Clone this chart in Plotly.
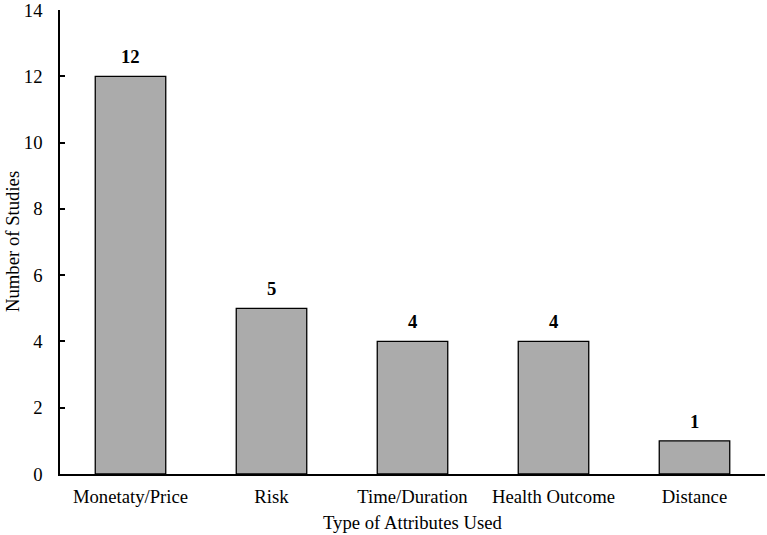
import plotly.graph_objects as go

categories = ["Monetaty/Price", "Risk", "Time/Duration", "Health Outcome", "Distance"]
values = [12, 5, 4, 4, 1]
y_ticks = [0, 2, 4, 6, 8, 10, 12, 14]

font_family = "Liberation Serif, Times New Roman, serif"
FS = 18.7

fig = go.Figure()
fig.add_trace(go.Bar(
    x=categories, y=values,
    marker=dict(color="#ABABAB", line=dict(color="black", width=1.3)),
    width=0.5,
))

for c, v in zip(categories, values):
    fig.add_annotation(x=c, y=v, text=f"<b>{v}</b>", showarrow=False,
                       yanchor="bottom", yshift=7,
                       font=dict(family=font_family, size=FS, color="black"))

# axis titles
fig.add_annotation(x=0.5, y=0, xref="paper", yref="paper", text="Type of Attributes Used",
                   showarrow=False, yanchor="middle", yshift=-48,
                   font=dict(family=font_family, size=FS, color="black"))
fig.add_annotation(x=0, y=0.5, xref="paper", yref="paper", text="Number of Studies",
                   showarrow=False, textangle=-90, xanchor="center", xshift=-48,
                   font=dict(family=font_family, size=FS, color="black"))

fig.update_layout(
    width=767, height=535,
    margin=dict(l=60, r=2, t=10, b=61),
    plot_bgcolor="white", paper_bgcolor="white",
    font=dict(family=font_family, size=FS, color="black"),
    showlegend=False,
    xaxis=dict(
        showline=True, linecolor="black", linewidth=1.5,
        ticks="", showgrid=False, automargin=False,
        tickfont=dict(size=FS),
        ticklabelstandoff=5,
    ),
    yaxis=dict(
        range=[0, 14], tickvals=y_ticks,
        showline=True, linecolor="black", linewidth=1.5,
        ticks="inside", ticklen=5, tickwidth=1.5, tickcolor="black",
        showgrid=False, zeroline=False, automargin=False,
        tickfont=dict(size=FS),
        ticklabelstandoff=12,
        ticklabeloverflow="allow",
    ),
)

fig.write_html("out.html", config={"displayModeBar": False},
               post_script="document.body.style.margin='0';document.body.style.overflow='hidden';")
